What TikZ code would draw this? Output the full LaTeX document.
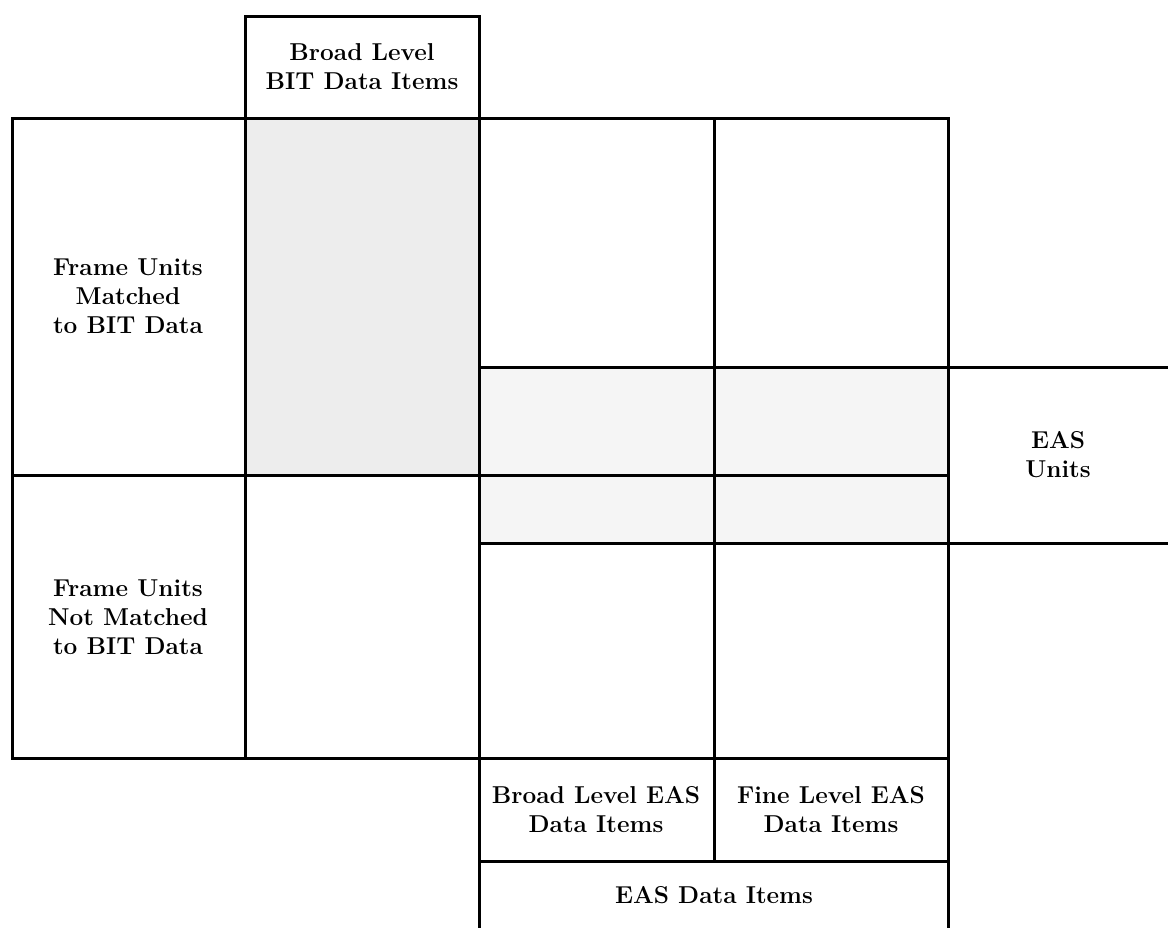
\documentclass[tikz,border=0pt]{standalone}
\tikzset{
  gridline/.style={line width=1.5pt, line cap=rect},
  celltext/.style={align=center, font=\fontsize{12.2}{14.5}\selectfont\bfseries}
}
\begin{document}
\begin{tikzpicture}[x=0.5pt, y=-0.5pt]
    \useasboundingbox (0,0) rectangle (1168,927);
    % shaded cells
    \fill[black!7] (245,118) rectangle (479,475);
    \fill[black!4] (479,367) rectangle (948,543);
    % grid
    \draw[gridline] (245,118) -- (245,16) -- (479,16) -- (479,118);
    \draw[gridline] (12,118) -- (948,118);
    \draw[gridline] (12,475) -- (948,475);
    \draw[gridline] (12,758) -- (948,758);
    \draw[gridline] (479,367) -- (1168,367);
    \draw[gridline] (479,543) -- (1168,543);
    \draw[gridline] (479,861) -- (948,861);
    \draw[gridline] (12,118) -- (12,758);
    \draw[gridline] (245,118) -- (245,758);
    \draw[gridline] (479,118) -- (479,927);
    \draw[gridline] (714,118) -- (714,861);
    \draw[gridline] (948,118) -- (948,927);
    % labels
    \node[celltext] (bitbroad) at (362,67) {Broad Level\\BIT Data Items};
    \node[celltext] (matched) at (128,296) {Frame Units\\Matched\\to BIT Data};
    \node[celltext] (notmatched) at (128,617) {Frame Units\\Not Matched\\to BIT Data};
    \node[celltext] (easunits) at (1058,455) {EAS\\Units};
    \node[celltext] (easbroad) at (596,810) {Broad Level EAS\\Data Items};
    \node[celltext] (easfine) at (831,810) {Fine Level EAS\\Data Items};
    \node[celltext] (easitems) at (714,895) {EAS Data Items};
\end{tikzpicture}
\end{document}
